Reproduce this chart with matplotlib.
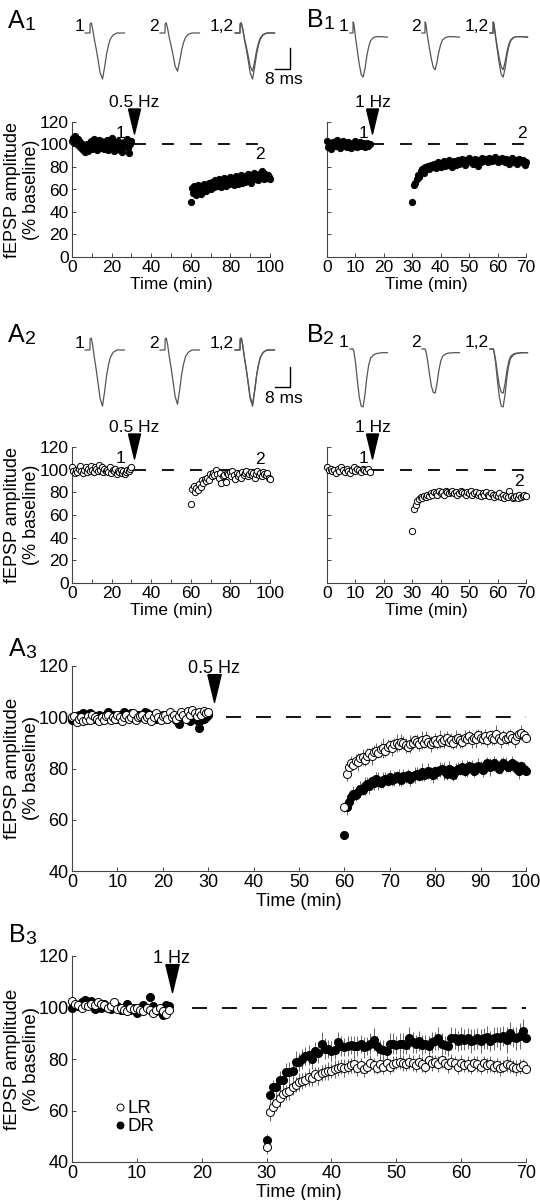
import numpy as np
import matplotlib.pyplot as plt
from matplotlib.lines import Line2D
from matplotlib.transforms import offset_copy

plt.rcParams['font.family'] = ['Liberation Sans', 'DejaVu Sans']

W, H = 540, 1200

# =============================================================================
# DATA
# =============================================================================
# --- A1: single experiment, 0.5 Hz LFS (filled) ---
A1_base = [103, 106, 101, 108, 104, 100, 105, 99, 102, 97,
           100, 95, 98, 93, 96, 100, 94, 97, 99, 103,
           96, 101, 105, 98, 102, 95, 100, 104, 97, 103,
           99, 101, 96, 100, 98, 104, 95, 102, 99, 97,
           106, 100, 94, 98, 101, 96, 103, 99, 95, 97,
           100, 93, 98, 102, 99, 101, 105, 97, 92, 100,
           103]
A1_post = [49, 61, 57, 63, 60, 55, 62, 64, 58, 61,
           56, 63, 60, 65, 62, 59, 64, 61, 66, 63,
           60, 67, 64, 62, 68, 65, 63, 66, 69, 64,
           67, 62, 68, 65, 70, 66, 63, 69, 67, 65,
           71, 68, 66, 70, 64, 69, 72, 67, 65, 70,
           68, 73, 66, 71, 69, 67, 72, 70, 74, 68,
           71, 66, 73, 70, 75, 69, 72, 71, 68, 74,
           70, 73, 76, 71, 69, 74, 72, 70, 73, 71,
           69]

# --- B1: single experiment, 1 Hz LFS (filled) ---
B1_base = [103, 98, 101, 96, 102, 100, 99, 104, 101, 97,
           100, 103, 99, 101, 98, 102, 100, 97, 101, 99,
           103, 98, 100, 102, 99, 101, 100, 98, 101, 99,
           100]
B1_post = [49, 64, 66, 69, 73, 71, 76, 78, 75, 80,
           79, 81, 78, 82, 80, 83, 81, 79, 84, 82,
           80, 83, 85, 81, 84, 82, 86, 83, 80, 85,
           84, 82, 86, 83, 85, 87, 84, 82, 86, 85,
           88, 84, 86, 83, 87, 85, 81, 86, 84, 88,
           85, 87, 86, 84, 88, 86, 85, 87, 89, 86,
           84, 87, 85, 88, 86, 84, 87, 85, 83, 86,
           88, 84, 86, 85, 83, 87, 85, 84, 86, 82,
           84]

# --- A2: single experiment, 0.5 Hz LFS (open) ---
A2_base = [102, 99, 97, 100, 98, 101, 103, 99, 97, 100,
           102, 98, 101, 99, 103, 100, 98, 102, 101, 99,
           104, 100, 102, 98, 101, 99, 100, 98, 102, 97,
           100, 99, 101, 96, 99, 98, 100, 97, 99, 96,
           98, 100, 99, 101, 102]
A2_post = [70, 83, 86, 80, 84, 82, 87, 85, 91, 88,
           92, 90, 93, 91, 96, 94, 97, 95, 100, 96,
           93, 97, 88, 94, 95, 89, 97, 96, 98, 94,
           99, 95, 92, 97, 94, 96, 93, 98, 95, 97,
           99, 94, 96, 98, 95, 97, 93, 96, 99, 95,
           97, 94, 98, 96, 95, 97, 93, 92]

# --- B2: single experiment, 1 Hz LFS (open) ---
B2_base = [102, 100, 101, 99, 100, 97, 101, 99, 102, 100,
           98, 101, 99, 97, 100, 102, 99, 101, 100, 98,
           101, 100, 99, 101, 98]
B2_post = [46, 65, 69, 72, 74, 76, 75, 77, 76, 78,
           77, 79, 78, 80, 79, 78, 81, 79, 80, 78,
           81, 80, 79, 80, 81, 79, 80, 78, 79, 81,
           80, 79, 78, 80, 79, 81, 78, 79, 80, 78,
           79, 77, 79, 78, 80, 78, 77, 79, 78, 76,
           78, 77, 79, 76, 78, 75, 77, 76, 81, 77,
           75, 76, 77, 75, 78, 76, 77, 78, 77]

# --- A3: group means, 0.5 Hz (LR open, DR filled) ---
A3_LR_base = [100, 100.5, 98, 99.5, 100, 98.5, 99, 100.5, 99, 101,
              100, 99.5, 98.5, 100, 99, 100.5, 101, 99, 100, 99.5,
              101, 100, 98.5, 100, 101, 99.5, 100, 101.5, 99, 100,
              100.5, 101, 99.5, 100, 101, 98.5, 100, 101.5, 100, 99,
              100.5, 101, 99.5, 102, 100, 101, 99.5, 100.5, 102, 101,
              99.5, 102.5, 101, 103, 101.5, 100.5, 102, 101, 102.5, 101.5,
              102]
A3_DR_base = [98.8, 100, 99.5, 101, 100.5, 101.5, 101, 100, 101.5, 101,
              99.5, 100.5, 101, 100, 99.5, 101, 102, 100.5, 101, 100,
              99.5, 101, 100.5, 102, 101, 100, 101.5, 100.5, 99.5, 101,
              100, 101, 102, 101.5, 100, 101, 100.5, 99.5, 101, 100,
              101, 100.5, 99.5, 100, 101, 100.5, 99, 97.5, 100, 101,
              100, 99.5, 98.5, 100, 101, 99, 96, 99, 99.5, 100,
              101]
A3_LR_post = [65, 78, 80.5, 82, 81.5, 83, 82.5, 84, 84.5, 83.5,
              85, 86, 85, 86.5, 87, 86, 87.5, 88, 87, 88.5,
              89, 88, 89.5, 90, 89, 90.5, 90, 89, 88.5, 89.5,
              90, 91, 90.5, 89.5, 91, 90, 91.5, 90.5, 89.5, 90.5,
              91, 90, 91.5, 90.5, 91, 92, 90.5, 91, 90, 91.5,
              92, 91, 90.5, 92, 91.5, 92.5, 91, 92, 91.5, 93,
              92, 91.5, 92.5, 91, 93, 92, 91.5, 93.5, 92, 91,
              92.5, 91.5, 92, 93, 92, 91, 92.5, 93.5, 94, 93,
              92]
A3_LR_err = [2, 3, 2.5, 3, 2, 2.5, 3.5, 2, 3, 2.5,
             3, 2, 3.5, 2.5, 3, 2, 3, 4, 2.5, 3,
             2, 3, 2.5, 3.5, 2, 3, 2.5, 3, 2, 3.5,
             2.5, 2, 3, 2.5, 3.5, 2, 3, 2.5, 3, 2,
             3, 2.5, 3.5, 2, 3, 2.5, 2, 3, 2.5, 3.5,
             2, 3, 2.5, 3, 2, 2.5, 3, 2, 3.5, 2.5,
             3, 2, 3, 2.5, 2, 3, 2.5, 3.5, 2, 3,
             2.5, 2, 3, 2.5, 2, 3, 2.5, 2, 3, 2,
             2.5]
A3_DR_post = [54, 65, 67, 69, 70, 69.5, 71, 72, 71.5, 73,
              74, 73, 75, 74.5, 76, 75, 74.5, 75.5, 76, 75,
              76.5, 75.5, 76, 77, 76.5, 75.5, 77, 76.5, 77.5, 76,
              77, 77.5, 78, 77, 78.5, 77.5, 78, 79, 78, 77.5,
              79, 78.5, 79.5, 80, 79, 78, 80, 79.5, 77.5, 79,
              80, 79.5, 80.5, 79, 80, 81, 80.5, 79, 80, 81,
              80.5, 79.5, 81, 82, 80.5, 81, 82, 81.5, 80, 81,
              82, 81.5, 80.5, 81, 82, 81.5, 80, 79, 81, 80,
              79]
A3_DR_err = [1.5, 3, 2, 2.5, 3, 2, 2.5, 3, 2, 3.5,
             2.5, 3, 2, 3, 2.5, 3.5, 2, 3, 2.5, 2,
             3, 2.5, 3, 2, 3.5, 2.5, 3, 2, 2.5, 3,
             2, 3, 2.5, 2, 3.5, 2.5, 2, 3, 2.5, 3,
             2, 2.5, 3, 2, 3.5, 2.5, 3, 2, 2.5, 3,
             2.5, 2, 3, 2.5, 3.5, 2, 3, 2.5, 2, 3,
             2.5, 3, 2, 2.5, 3.5, 2, 3, 2.5, 2, 3,
             2.5, 3, 2, 2.5, 3, 2, 2.5, 3, 2, 2.5,
             2]

# --- B3: group means, 1 Hz (LR open, DR filled) ---
B3_LR_base = [102.5, 101.5, 101, 100, 101, 100.5, 101.5, 101, 102, 101.5,
              101, 100, 100.5, 102, 99.5, 100, 99, 98.5, 100, 99.5,
              100, 99, 98.5, 100, 99, 98, 99, 100, 98.5, 97.5,
              99]
B3_DR_base = [100, 101, 100.5, 102, 103, 101.5, 102.5, 99.5, 101, 100,
              101.5, 100, 99.5, 100, 100.5, 99, 100, 101.5, 99, 100,
              98, 99, 101, 100, 104, 100.5, 98.5, 99, 97, 101,
              100.5]
B3_LR_post = [46, 59.5, 61.5, 63, 65, 66.5, 67, 67.5, 69, 70,
              71, 71.5, 72, 73, 72.5, 74, 73.5, 74.5, 75, 75.5,
              75.5, 76, 76.5, 77, 76.5, 77, 77.5, 78, 76.5, 77.5,
              76, 77, 78.5, 77.5, 76.5, 78, 77, 78.5, 77, 78,
              78.5, 79, 78.5, 78, 79, 78.5, 77.5, 79, 78, 77,
              79.5, 78.5, 79, 78, 79.5, 78.5, 77.5, 79, 78.5, 77,
              78.5, 77.5, 78, 77, 78.5, 78, 77, 78.5, 77.5, 78,
              77, 77.5, 76.5, 77, 78, 77.5, 77, 76.5, 77, 77.5,
              76]
B3_LR_err = [3, 3.5, 3, 3, 3.5, 3, 3, 3.5, 3, 3,
             3.5, 3, 3, 3.5, 3, 3, 3.5, 3, 3, 3.5,
             3, 3.5, 3, 3, 3.5, 3, 3, 3.5, 3, 3,
             3, 2.5, 3, 3, 2.5, 3, 3, 2.5, 3, 3,
             2.5, 3, 3, 2.5, 3, 3, 2.5, 3, 3, 2.5,
             3, 3, 2.5, 3, 3, 2.5, 3, 3, 2.5, 3,
             3, 2.5, 3, 3, 2.5, 3, 3, 2.5, 3, 3,
             2.5, 3, 3, 2.5, 3, 3, 2.5, 3, 3, 2.5,
             3]
B3_DR_post = [48.5, 66, 69, 69, 72, 72, 75, 75, 75.5, 79,
              79, 80, 81, 81.5, 80, 83, 82.5, 86, 84, 84,
              83, 83.5, 86.5, 85, 84.5, 85, 85.5, 85, 85, 86,
              84.5, 85, 86, 87.5, 85, 84, 83.5, 83, 86, 86,
              85.5, 86, 86, 85.5, 88, 86.5, 86, 87, 85.5, 86,
              85, 86.5, 87, 88, 86, 85.5, 85, 88, 88, 87,
              88, 87.5, 88, 87, 87.5, 88, 87, 88, 88.5, 87,
              88, 88.5, 88, 89, 87.5, 90, 88.5, 88, 89, 91,
              88]
B3_DR_err = [2.5, 3, 3, 3.5, 3.5, 3, 3.5, 4, 3.5, 4,
             3.5, 4, 3.5, 4, 4, 3.5, 4, 4.5, 4, 3.5,
             4, 3.5, 4, 4, 3.5, 4, 3.5, 4, 4, 3.5,
             4, 3.5, 4, 4.5, 4, 3.5, 4, 3.5, 4, 4,
             3.5, 4, 4, 3.5, 4.5, 4, 3.5, 4, 4, 3.5,
             4, 4, 3.5, 4.5, 4, 3.5, 4, 4.5, 4, 4,
             4.5, 4, 4, 4.5, 4, 4, 4.5, 4, 4.5, 4,
             4.5, 4, 4.5, 4, 5, 4.5, 4, 4.5, 5, 4.5,
             6]

# --- example fEPSP traces (ms, normalised amplitude) ---
TR_A_T = [0, 2.6, 2.7, 3.3, 4.0, 5.0, 6.0, 7.0, 8.0, 9.3, 10.5, 11.5, 12.5, 13.5, 15.0, 17.0, 21.0]
A1_tr_pre = [0, 0, 0.2, 0.22, 0.1, -0.15, -0.36, -0.6, -0.86, -1.0, -0.72, -0.45, -0.26, -0.13, -0.04, 0.0, 0.0]
A1_tr_post = [0, 0, 0.2, 0.22, 0.1, -0.12, -0.3, -0.5, -0.72, -0.83, -0.6, -0.37, -0.21, -0.1, -0.03, 0.0, 0.0]
A2_tr_pre = [0, 0, 0.24, 0.26, 0.12, -0.18, -0.44, -0.74, -1.05, -1.22, -0.88, -0.55, -0.32, -0.16, -0.05, 0.0, 0.0]
A2_tr_post = [0, 0, 0.24, 0.26, 0.12, -0.17, -0.42, -0.71, -1.01, -1.18, -0.85, -0.53, -0.31, -0.15, -0.05, 0.0, 0.0]

TR_B_T = [0, 1.6, 1.7, 2.1, 3.0, 4.0, 5.0, 6.0, 7.0, 8.0, 9.0, 10.0, 11.0, 12.5, 14.0, 17.0, 20.0]
B1_tr_pre = [0, 0, 0.24, 0.2, -0.1, -0.4, -0.68, -0.9, -0.96, -0.78, -0.5, -0.3, -0.17, -0.1, -0.08, -0.08, -0.09]
B1_tr_post = [0, 0, 0.24, 0.2, -0.08, -0.33, -0.56, -0.74, -0.8, -0.64, -0.41, -0.25, -0.15, -0.1, -0.08, -0.08, -0.09]
B2_tr_pre = [0, 0, 0, -0.05, -0.3, -0.7, -1.05, -1.24, -1.26, -1.0, -0.62, -0.35, -0.2, -0.13, -0.1, -0.08, -0.08]
B2_tr_post = [0, 0, 0, -0.04, -0.24, -0.54, -0.8, -0.94, -0.96, -0.76, -0.47, -0.27, -0.16, -0.11, -0.09, -0.08, -0.08]

STIM_A = 31.3   # min, 0.5 Hz LFS marker
STIM_B = 16.0   # min, 1 Hz LFS marker

FS_TOP = 12.5
FS_BOT = 13


# =============================================================================
# HELPERS
# =============================================================================
fig = plt.figure(figsize=(W / 100, H / 100), dpi=100)


def px_axes(x0, y0, x1, y1):
    return fig.add_axes([x0 / W, 1 - y1 / H, (x1 - x0) / W, (y1 - y0) / H])


def fig_text(x, y, s, **kw):
    fig.text(x / W, 1 - y / H, s, **kw)


def panel_label(x, y, letter, sub):
    fig_text(x, y, letter, fontsize=18, ha='left', va='baseline')
    fig_text(x + 16.5, y + 2, sub, fontsize=14, ha='left', va='baseline')


def style_axes(ax, xlim, xticks, xlabels, ylim, yticks, show_ylabels=True, fs=FS_TOP):
    for s in ('top', 'right'):
        ax.spines[s].set_visible(False)
    for s in ('left', 'bottom'):
        ax.spines[s].set_linewidth(0.8)
        ax.spines[s].set_color('#444')
    ax.set_xlim(*xlim)
    ax.set_ylim(*ylim)
    ax.set_xticks(xticks)
    ax.set_xticklabels(xlabels)
    ax.set_yticks(yticks)
    if not show_ylabels:
        ax.set_yticklabels([])
    ax.tick_params(direction='in', length=3, width=0.7, color='#444',
                   labelsize=fs, pad=2.5)
    ax.set_xlabel("Time (min)", fontsize=fs, labelpad=1)


def ylabel(yb, yt, fs):
    fig_text(22, (yb + yt) / 2, "fEPSP amplitude\n(% baseline)", rotation=90,
             ha='center', va='center', fontsize=fs, multialignment='center',
             linespacing=1.1)


def timecourse(ax, t, y, filled, ms=4.5):
    ax.plot(t, y, 'o', ms=ms, mfc='black' if filled else 'white',
            mec='black', mew=0.7, clip_on=False, zorder=3)


TRI = [(-0.24, 0.5), (0.24, 0.5), (0, -0.5), (-0.24, 0.5)]


def stim_arrow(ax, x, tip, label, h=18, fs=FS_TOP):
    trans = offset_copy(ax.transData, fig=fig, x=0, y=h / 2, units='points')
    ax.plot([x], [tip], marker=TRI, ms=h, color='black', ls='',
            transform=trans, clip_on=False, zorder=4)
    ax.annotate(label, xy=(x, tip), xytext=(0, h + 1), textcoords='offset points',
                ha='center', va='baseline', fontsize=fs, annotation_clip=False)


def baseline_dash(ax, x0, x1, dashes):
    ax.plot([x0, x1], [100, 100], color='black', lw=1.3, dashes=dashes, zorder=2)


def trace_group(x0, x1, y0, y1, base_px, xlim_ms, offsets, t, pre, post, labels):
    ax = px_axes(x0, y0, x1, y1)
    ax.axis('off')
    k = 46.0  # px per unit amplitude
    ax.set_xlim(0, xlim_ms)
    ax.set_ylim(-(y1 - base_px) / k, (base_px - y0) / k)
    t = np.asarray(t)
    for off, (a, b), lab in zip(offsets, [(pre, None), (post, None), (pre, post)], labels):
        ax.plot(t + off, a, color='#555', lw=0.9)
        if b is not None:
            ax.plot(t + off, b, color='#555', lw=0.9)
        ax.text(off - 0.6, 0.05, lab, ha='right', va='baseline', fontsize=FS_TOP)
    return ax


# =============================================================================
# TRACES
# =============================================================================
A_OFF = [2.7, 42.7, 82.7]
B_OFF = [5.3, 43.7, 80.0]
LABS = ["1", "2", "1,2"]

axA1t = trace_group(80, 300, 10, 90, 33, 117.3, A_OFF, TR_A_T, A1_tr_pre, A1_tr_post, LABS)
# scale bar: 8 ms
axA1t.plot([104, 112, 112], [-0.78, -0.78, -0.33], color='black', lw=1.0)
axA1t.text(108.5, -1.02, "8 ms", ha='center', va='center', fontsize=FS_TOP)

trace_group(340, 535, 10, 90, 33, 104.0, B_OFF, TR_B_T, B1_tr_pre, B1_tr_post, LABS)

axA2t = trace_group(80, 300, 325, 415, 350, 117.3, A_OFF, TR_A_T, A2_tr_pre, A2_tr_post, LABS)
axA2t.plot([104, 112, 112], [-0.8, -0.8, -0.37], color='black', lw=1.0)
axA2t.text(108.5, -1.05, "8 ms", ha='center', va='center', fontsize=FS_TOP)

trace_group(340, 535, 325, 415, 349, 104.0, B_OFF, TR_B_T, B2_tr_pre, B2_tr_post, LABS)

# =============================================================================
# A1 / B1 / A2 / B2 time courses
# =============================================================================
DASH_TOP = (6.6, 8.9)
DASH_BOT = (8.3, 8.3)

for row, (yb, yt) in enumerate([(257, 122), (583, 447)]):
    axA = px_axes(72, yt, 270, yb)
    axB = px_axes(327, yt, 526, yb)
    style_axes(axA, (0, 100), [0, 10, 20, 30, 40, 50, 60, 70, 80, 90, 100],
               ["0", "", "20", "", "40", "", "60", "", "80", "", "100"],
               (0, 120), [0, 20, 40, 60, 80, 100, 120])
    style_axes(axB, (0, 70), [0, 10, 20, 30, 40, 50, 60, 70],
               ["0", "10", "20", "30", "40", "50", "60", "70"],
               (0, 120), [0, 20, 40, 60, 80, 100, 120], show_ylabels=False)
    ylabel(yb, yt, 13)

    if row == 0:
        a_base, a_post, b_base, b_post, filled = A1_base, A1_post, B1_base, B1_post, True
        lab2_a, lab2_b = (95, 87), (68.5, 106)
    else:
        a_base, a_post, b_base, b_post, filled = A2_base, A2_post, B2_base, B2_post, False
        lab2_a, lab2_b = (95, 105), (67.5, 86)

    baseline_dash(axA, STIM_A, 100, DASH_TOP)
    baseline_dash(axB, STIM_B, 70, DASH_TOP)
    timecourse(axA, np.linspace(0, 30, len(a_base)), a_base, filled)
    timecourse(axA, np.linspace(60, 100, len(a_post)), a_post, filled)
    timecourse(axB, np.linspace(0, 15, len(b_base)), b_base, filled)
    timecourse(axB, np.linspace(30, 70, len(b_post)), b_post, filled)
    stim_arrow(axA, STIM_A, 110, "0.5 Hz")
    stim_arrow(axB, STIM_B, 110, "1 Hz")
    axA.text(24.5, 106, "1", ha='center', va='baseline', fontsize=FS_TOP)
    axA.text(*lab2_a, "2", ha='center', va='baseline', fontsize=FS_TOP)
    axB.text(13, 106, "1", ha='center', va='baseline', fontsize=FS_TOP)
    axB.text(*lab2_b, "2", ha='center', va='baseline', fontsize=FS_TOP)

# =============================================================================
# A3 / B3 group data
# =============================================================================
for name, (yb, yt), xmax, stim, dash0, base_end, post_start, data in [
        ("A3", (871, 666), 100, STIM_A, 34, 30, 60,
         (A3_LR_base, A3_DR_base, A3_LR_post, A3_LR_err, A3_DR_post, A3_DR_err)),
        ("B3", (1162, 956), 70, STIM_B - 0.6, 18.5, 15, 30,
         (B3_LR_base, B3_DR_base, B3_LR_post, B3_LR_err, B3_DR_post, B3_DR_err))]:
    lr_b, dr_b, lr_p, lr_e, dr_p, dr_e = data
    ax = px_axes(72, yt, 526, yb)
    ticks = list(range(0, xmax + 1, 10))
    style_axes(ax, (0, xmax), ticks, [str(v) for v in ticks],
               (40, 120), [40, 60, 80, 100, 120], fs=FS_BOT)
    ylabel(yb, yt, 13.5)
    baseline_dash(ax, dash0, xmax, DASH_BOT)

    t_b = np.linspace(0, base_end, len(lr_b))
    t_p = np.linspace(post_start, xmax, len(lr_p))
    ax.errorbar(t_p, dr_p, yerr=dr_e, fmt='none', ecolor='#666', elinewidth=0.7, zorder=1)
    ax.errorbar(t_p, lr_p, yerr=lr_e, fmt='none', ecolor='#666', elinewidth=0.7, zorder=1)
    timecourse(ax, np.linspace(0, base_end, len(dr_b)), dr_b, True, ms=5.8)
    timecourse(ax, t_b, lr_b, False, ms=5.8)
    timecourse(ax, t_p, dr_p, True, ms=5.8)
    timecourse(ax, t_p, lr_p, False, ms=5.8)
    stim_arrow(ax, stim, 106, "0.5 Hz" if name == "A3" else "1 Hz", h=20, fs=FS_BOT)

    if name == "B3":
        handles = [Line2D([], [], marker='o', ls='', mfc='white', mec='black', mew=0.7, ms=5),
                   Line2D([], [], marker='o', ls='', mfc='black', mec='black', mew=0.7, ms=5)]
        ax.legend(handles, ["LR", "DR"], loc='upper left', bbox_to_anchor=(0.095, 0.3),
                  frameon=False, handlelength=0.5, handletextpad=0.15, labelspacing=0.05,
                  borderaxespad=0, borderpad=0, fontsize=13.5)

# panel letters
panel_label(8, 28, "A", "1")
panel_label(307, 27, "B", "1")
panel_label(8, 342, "A", "2")
panel_label(307, 342, "B", "2")
panel_label(9, 656, "A", "3")
panel_label(9, 942, "B", "3")

fig.savefig("out.png", dpi=100)
